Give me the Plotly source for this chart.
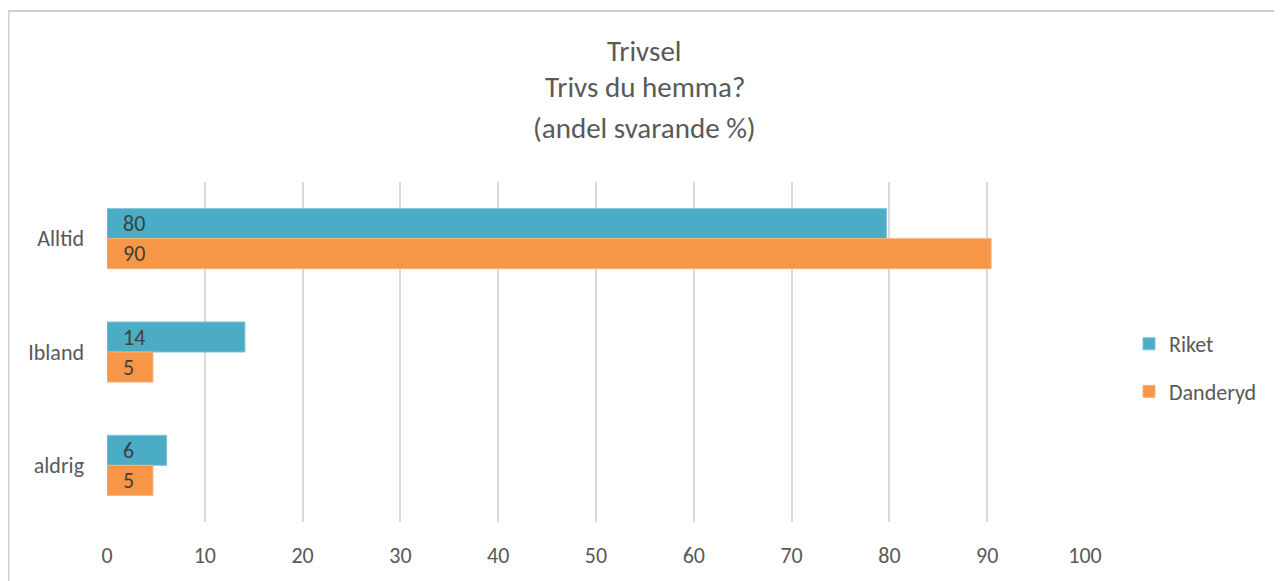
import plotly.graph_objects as go

categories = ["Alltid", "Ibland", "aldrig"]
riket = [79.7, 14.1, 6.1]
danderyd = [90.4, 4.7, 4.7]
riket_labels = ["80", "14", "6"]
danderyd_labels = ["90", "5", "5"]
x_ticks = [0, 10, 20, 30, 40, 50, 60, 70, 80, 90, 100]
title_lines = ["Trivsel", "Trivs du hemma?", "(andel svarande %)"]

FONT = "Calibri, Carlito, Lato, sans-serif"
TXT = "#595959"

fig = go.Figure()
fig.add_trace(go.Bar(y=categories, x=riket, name="Riket", orientation="h",
                     marker=dict(color="#4BACC6", line=dict(color="#7cc3d6", width=1)),
                     legendgroup="a", hoverinfo="x+y"))
fig.add_trace(go.Bar(y=categories, x=danderyd, name="Danderyd", orientation="h",
                     marker=dict(color="#F79646", line=dict(color="#f9b27a", width=1)),
                     legendgroup="b", hoverinfo="x+y"))

annotations = []
for i, c in enumerate(categories):
    annotations.append(dict(x=0, y=i, xref="x", yref="y", text=riket_labels[i],
                            xanchor="left", yanchor="middle", xshift=14, yshift=15,
                            showarrow=False, font=dict(size=22, color="#404040", family=FONT)))
    annotations.append(dict(x=0, y=i, xref="x", yref="y", text=danderyd_labels[i],
                            xanchor="left", yanchor="middle", xshift=14, yshift=-15,
                            showarrow=False, font=dict(size=22, color="#404040", family=FONT)))

title_y = [1.386, 1.28, 1.158]
for t, yy in zip(title_lines, title_y):
    annotations.append(dict(x=0.55, y=yy, xref="paper", yref="paper", text=t,
                            xanchor="center", yanchor="middle", showarrow=False,
                            font=dict(size=29, color=TXT, family=FONT)))

fig.update_layout(
    width=1274, height=573,
    margin=dict(l=99, r=197, t=174, b=57),
    paper_bgcolor="white", plot_bgcolor="white",
    barmode="group", bargap=0.47, bargroupgap=0,
    font=dict(family=FONT, color=TXT, size=22),
    xaxis=dict(range=[0, 100], tickvals=x_ticks, showgrid=True, gridcolor="#d9d9d9",
               gridwidth=2, zeroline=False, showline=False, ticks="",
               ticklabelstandoff=18, tickfont=dict(size=22, color=TXT), fixedrange=True),
    yaxis=dict(autorange="reversed", showgrid=False, zeroline=False, showline=False,
               ticks="", ticklabelstandoff=22, tickfont=dict(size=22, color=TXT)),
    legend=dict(x=1.045, xanchor="left", y=0.453, yanchor="middle",
                traceorder="grouped", tracegroupgap=16, itemwidth=30,
                font=dict(size=22, color=TXT)),
    annotations=annotations,
    shapes=[dict(type="rect", xref="paper", yref="paper",
                 x0=-0.1007, x1=1.25, y0=-0.3, y1=1.503,
                 line=dict(color="#d0d0d0", width=2), fillcolor="rgba(0,0,0,0)", layer="above")],
)

fig.write_html("out.html")
